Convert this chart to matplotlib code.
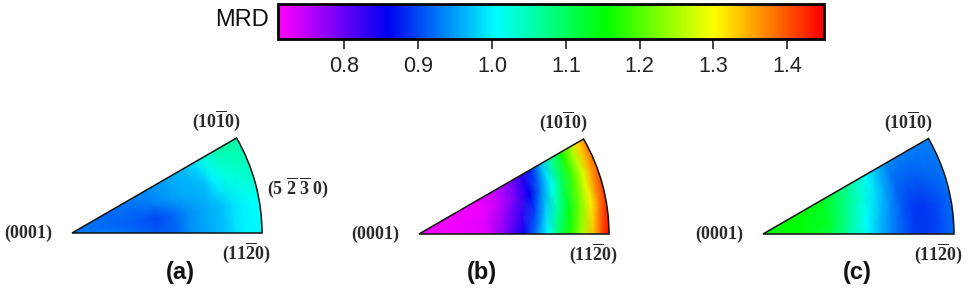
import numpy as np
import matplotlib
matplotlib.use("Agg")
import matplotlib.pyplot as plt
from matplotlib.colors import LinearSegmentedColormap, Normalize
from matplotlib.cm import ScalarMappable
from matplotlib.patches import Wedge

plt.rcParams['mathtext.fontset'] = 'custom'
plt.rcParams['mathtext.rm'] = 'Liberation Serif'
plt.rcParams['mathtext.bf'] = 'Liberation Serif:bold'
plt.rcParams['mathtext.it'] = 'Liberation Serif:italic'

# ---------------- data ----------------
cbar_label = "MRD"
cbar_ticks = [0.8, 0.9, 1.0, 1.1, 1.2, 1.3, 1.4]
mrd_min, mrd_max = 0.71, 1.45
cmap_colors = ["#ff00ff", "#0000f0", "#00ffff", "#00ff00", "#ffff00", "#ff0000"]

panel_labels = ["(a)", "(b)", "(c)"]

# sample grid inside each IPF wedge (radius fraction, angle in degrees)
radii = [0.0, 0.2, 0.35, 0.45, 0.55, 0.62, 0.68, 0.74, 0.80, 0.86, 0.92, 0.96, 1.0]
angles = [0, 10, 20, 30]

# MRD values: rows = radii, columns = angles
mrd_a = [
    [0.93, 0.93, 0.93, 0.93],
    [0.93, 0.92, 0.92, 0.92],
    [0.92, 0.91, 0.92, 0.93],
    [0.91, 0.90, 0.93, 0.94],
    [0.92, 0.92, 0.95, 0.95],
    [0.94, 0.94, 0.96, 0.96],
    [0.95, 0.95, 0.96, 0.97],
    [0.96, 0.96, 0.97, 0.99],
    [0.97, 0.97, 1.00, 1.03],
    [0.99, 0.99, 1.02, 1.05],
    [1.00, 1.00, 1.03, 1.06],
    [1.00, 1.01, 1.04, 1.06],
    [1.00, 1.01, 1.04, 1.05],
]
mrd_b = [
    [0.72, 0.72, 0.72, 0.72],
    [0.72, 0.72, 0.72, 0.72],
    [0.73, 0.73, 0.72, 0.72],
    [0.78, 0.77, 0.75, 0.74],
    [0.85, 0.83, 0.80, 0.78],
    [0.93, 0.90, 0.86, 0.83],
    [1.01, 0.98, 0.93, 0.88],
    [1.10, 1.06, 1.01, 0.97],
    [1.17, 1.14, 1.10, 1.06],
    [1.25, 1.22, 1.19, 1.16],
    [1.34, 1.31, 1.28, 1.25],
    [1.40, 1.37, 1.35, 1.32],
    [1.45, 1.43, 1.40, 1.37],
]
mrd_c = [
    [1.15, 1.15, 1.15, 1.15],
    [1.15, 1.15, 1.15, 1.15],
    [1.12, 1.13, 1.13, 1.14],
    [1.06, 1.07, 1.08, 1.10],
    [1.00, 1.01, 1.03, 1.05],
    [0.96, 0.97, 0.99, 1.01],
    [0.93, 0.94, 0.95, 0.97],
    [0.91, 0.91, 0.92, 0.94],
    [0.89, 0.89, 0.91, 0.93],
    [0.89, 0.89, 0.91, 0.93],
    [0.90, 0.90, 0.92, 0.93],
    [0.91, 0.91, 0.92, 0.93],
    [0.92, 0.92, 0.93, 0.93],
]
panel_values = [mrd_a, mrd_b, mrd_c]

lbl_0001 = r"$\mathbf{(0001)}$"
lbl_1010 = r"$\mathbf{(10\overline{1}0)}$"
lbl_1120 = r"$\mathbf{(11\overline{2}0)}$"
lbl_5230 = r"$\mathbf{(5\ \overline{2}\ \overline{3}\ 0)}$"

# ---------------- figure ----------------
W, H = 968, 303
fig = plt.figure(figsize=(W / 100, H / 100), dpi=100)
fig.patch.set_facecolor("white")

cmap = LinearSegmentedColormap.from_list("mrd", cmap_colors)
norm = Normalize(vmin=mrd_min, vmax=mrd_max)

def px_axes(left, top, width, height):
    return fig.add_axes([left / W, (H - top - height) / H, width / W, height / H])

# colorbar
cax = px_axes(278, 4, 546, 35)
cb = fig.colorbar(ScalarMappable(norm=norm, cmap=cmap), cax=cax, orientation="horizontal")
cb.set_ticks(cbar_ticks)
cb.set_ticklabels([f"{t:.1f}" for t in cbar_ticks])
cb.outline.set_linewidth(2.0)
cax.tick_params(axis="x", length=7, width=1.2, pad=5, labelsize=15.5, colors="#222222")
for lab in cax.get_xticklabels():
    lab.set_fontfamily("Liberation Sans")
fig.text(269 / W, 1 - 20 / H, cbar_label, ha="right", va="center",
         fontsize=17, family="Liberation Sans", color="#111111")

# wedge panels: origin pixel (x, y from top) and radius in pixels
origins = [(72, 233, 190), (419, 234, 190), (763, 234, 191)]
lab_x = [180, 482, 857]
text_kw = dict(fontsize=13, color="#2a2a2a", clip_on=False)

th = np.deg2rad(np.array(angles, dtype=float))
rr = np.array(radii, dtype=float)
rr_geom = rr.copy()
rr_geom[-1] = rr_geom[-1] / np.cos(np.deg2rad(5.5))
Rg, Tg = np.meshgrid(rr_geom, th, indexing="ij")
Xg, Yg = Rg * np.cos(Tg), Rg * np.sin(Tg)

for i, (ox, oy, R) in enumerate(origins):
    ax = px_axes(ox, oy - 0.5 * R, R, 0.5 * R)
    ax.set_xlim(0, 1)
    ax.set_ylim(0, 0.5)
    ax.axis("off")
    vals = np.array(panel_values[i])
    mesh = ax.pcolormesh(Xg, Yg, vals, cmap=cmap, norm=norm, shading="gouraud")
    clip = Wedge((0, 0), 1.0, 0, 30, transform=ax.transData)
    mesh.set_clip_path(clip)
    ax.add_patch(Wedge((0, 0), 1.0, 0, 30, facecolor="none",
                       edgecolor="#111111", linewidth=1.1, clip_on=False))
    ax.text(-0.1, 0.0, lbl_0001, ha="right", va="center", **text_kw)
    ax.text(0.76, 0.59, lbl_1010, ha="center", va="center", **text_kw)
    ax.text(0.92, -0.105, lbl_1120, ha="center", va="center", **text_kw)
    if i == 0:
        ax.text(1.19, 0.24, lbl_5230, ha="center", va="center", **text_kw)
    fig.text(lab_x[i] / W, 1 - 272 / H, panel_labels[i], ha="center", va="center",
             fontsize=17, fontweight="bold", family="Liberation Sans", color="#111111")

fig.savefig("out.png", dpi=100, facecolor="white")
